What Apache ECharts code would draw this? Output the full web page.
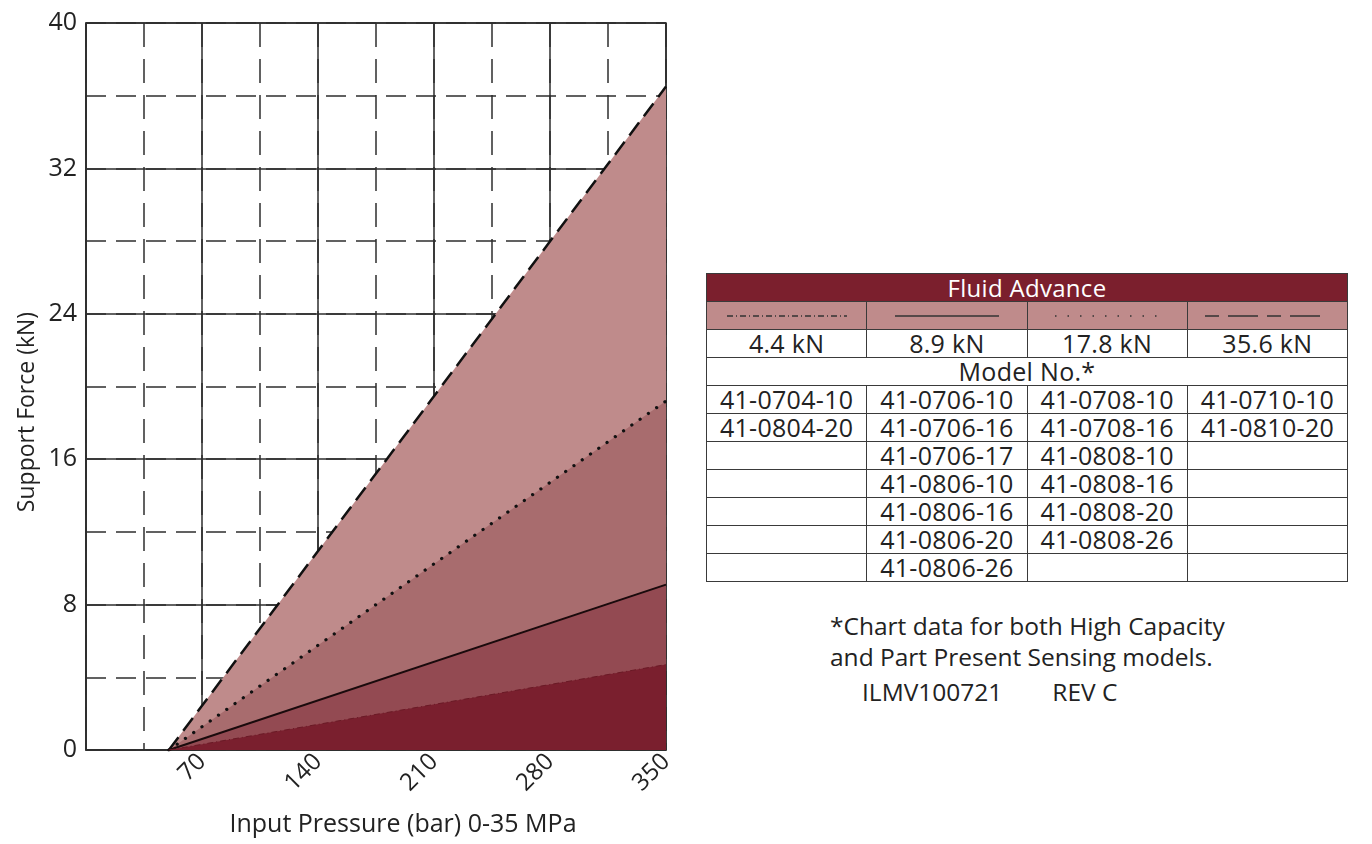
<!DOCTYPE html>
<html><head><meta charset="utf-8">
<script src="https://cdn.jsdelivr.net/npm/echarts@6/dist/echarts.min.js"></script>
<style>
body{margin:0;background:#fff;font-family:'Open Sans',sans-serif;color:#222;}
#chart{position:absolute;left:0;top:0;width:700px;height:844px;}
#tbl{position:absolute;left:706px;top:273px;border-collapse:collapse;width:642px;table-layout:fixed;}
#tbl td{border:1.5px solid #3a3a3a;height:27px;padding:0;text-align:center;font-size:25px;line-height:27px;white-space:nowrap;overflow:visible;letter-spacing:0.3px;}
#tbl tr.hdr td{background:#7b1f2d;color:#fff;font-size:24px;}
#tbl tr.smp td{background:#bf8b8b;}
#note{position:absolute;left:830px;top:610px;font-size:24.5px;line-height:31px;}
#note .l3{display:block;margin-top:4px;}
</style></head>
<body>
<div id="chart"></div>
<table id="tbl"></table>
<div id="note">*Chart data for both High Capacity<br>and Part Present Sensing models.<span class="l3"><span style="margin-left:32px">ILMV100721</span><span style="margin-left:50px">REV C</span></span></div>
<script>
// ---- data ----
const xTicks = [70, 140, 210, 280, 350];
const yTicks = [0, 8, 16, 24, 32, 40];
const capacities = ['4.4 kN', '8.9 kN', '17.8 kN', '35.6 kN'];
const line356 = [[50, 0], [350, 36.5]];
const line178 = [[50, 0], [350, 19.2]];
const line89 = [[50, 0], [350, 9.1]];
const line44 = [[50, 0], [350, 4.7]];
const models44 = ['41-0704-10', '41-0804-20'];
const models89 = ['41-0706-10', '41-0706-16', '41-0706-17', '41-0806-10', '41-0806-16', '41-0806-20', '41-0806-26'];
const models178 = ['41-0708-10', '41-0708-16', '41-0808-10', '41-0808-16', '41-0808-20', '41-0808-26'];
const models356 = ['41-0710-10', '41-0810-20'];

// ---- chart ----
const FONT = 'Open Sans';
const gridCol = '#2e2e2e';
const chart = echarts.init(document.getElementById('chart'));
chart.setOption({
  animation: false,
  textStyle: {fontFamily: FONT},
  grid: {left: 86, right: 34, top: 23, bottom: 94, show: true, borderColor: gridCol, borderWidth: 1.5, backgroundColor: 'transparent'},
  xAxis: [
    {type: 'value', min: 0, max: 350, interval: 70,
     axisLine: {show: true, lineStyle: {color: gridCol, width: 1.5}}, axisTick: {show: false},
     axisLabel: {rotate: 45, fontSize: 24, color: '#222', margin: 8, fontFamily: FONT,
       formatter: v => xTicks.includes(v) ? String(v) : ''},
     splitLine: {show: true, lineStyle: {color: gridCol, width: 1.5, type: 'solid'}}},
    {type: 'value', min: 0, max: 350, interval: 35, position: 'bottom',
     axisLine: {show: false}, axisTick: {show: false}, axisLabel: {show: false},
     splitLine: {show: true, lineStyle: {color: gridCol, width: 1.5, type: [24, 12]}}}
  ],
  yAxis: [
    {type: 'value', min: 0, max: 40, interval: 8,
     axisLine: {show: true, lineStyle: {color: gridCol, width: 1.5}}, axisTick: {show: false},
     axisLabel: {fontSize: 25, color: '#222', margin: 9, fontFamily: FONT,
       formatter: v => yTicks.includes(v) ? String(v) : ''},
     splitLine: {show: true, lineStyle: {color: gridCol, width: 1.5, type: 'solid'}}},
    {type: 'value', min: 0, max: 40, interval: 4, position: 'left',
     axisLine: {show: false}, axisTick: {show: false}, axisLabel: {show: false},
     splitLine: {show: true, lineStyle: {color: gridCol, width: 1.5, type: [20, 10]}}}
  ],
  graphic: [
    {type: 'text', x: 403, y: 825,
     style: {text: 'Input Pressure (bar) 0-35 MPa', fontSize: 25, fill: '#222', fontFamily: FONT, align: 'center', verticalAlign: 'middle'}},
    {type: 'text', x: 27, y: 412, rotation: Math.PI / 2,
     style: {text: 'Support Force (kN)', fontSize: 23, fill: '#222', fontFamily: FONT, align: 'center', verticalAlign: 'middle'}}
  ],
  series: [
    {name: '35.6 kN', type: 'line', data: line356, symbol: 'none', z: 3,
     lineStyle: {color: '#111', width: 2.5, type: [16, 8]}, areaStyle: {color: '#bf8b8b', opacity: 1}},
    {name: '17.8 kN', type: 'line', data: line178, symbol: 'none', z: 4,
     lineStyle: {color: '#111', width: 3.2, type: [0.1, 10], cap: 'round'}, areaStyle: {color: '#a86c6e', opacity: 1}},
    {name: '8.9 kN', type: 'line', data: line89, symbol: 'none', z: 5,
     lineStyle: {color: '#1a0a0c', width: 2, type: 'solid'}, areaStyle: {color: '#934a52', opacity: 1}},
    {name: '4.4 kN', type: 'line', data: line44, symbol: 'none', z: 6,
     lineStyle: {color: '#6a1a26', width: 1, type: [6, 3, 1, 3]}, areaStyle: {color: '#7a1f2e', opacity: 1}}
  ]
});

// ---- table ----
const samples = [
  '<svg width="120" height="10"><line x1="0" y1="5" x2="120" y2="5" stroke="#333" stroke-width="1.5" stroke-dasharray="6,3,1,3"/></svg>',
  '<svg width="104" height="10"><line x1="0" y1="5" x2="104" y2="5" stroke="#333" stroke-width="1.5"/></svg>',
  '<svg width="104" height="10"><line x1="0" y1="5" x2="104" y2="5" stroke="#333" stroke-width="1.5" stroke-dasharray="1.5,11"/></svg>',
  '<svg width="124" height="10"><line x1="0" y1="5" x2="124" y2="5" stroke="#333" stroke-width="1.5" stroke-dasharray="14,9,30,9"/></svg>'
];
const cols = [models44, models89, models178, models356];
const nRows = Math.max(...cols.map(c => c.length));
let html = '<tr class="hdr"><td colspan="4">Fluid Advance</td></tr>';
html += '<tr class="smp">' + samples.map(s => '<td style="line-height:0">' + s + '</td>').join('') + '</tr>';
html += '<tr>' + capacities.map(c => '<td>' + c + '</td>').join('') + '</tr>';
html += '<tr><td colspan="4">Model No.*</td></tr>';
for (let r = 0; r < nRows; r++) {
  html += '<tr>' + cols.map(c => '<td>' + (c[r] || '') + '</td>').join('') + '</tr>';
}
document.getElementById('tbl').innerHTML = html;
</script>
</body></html>
